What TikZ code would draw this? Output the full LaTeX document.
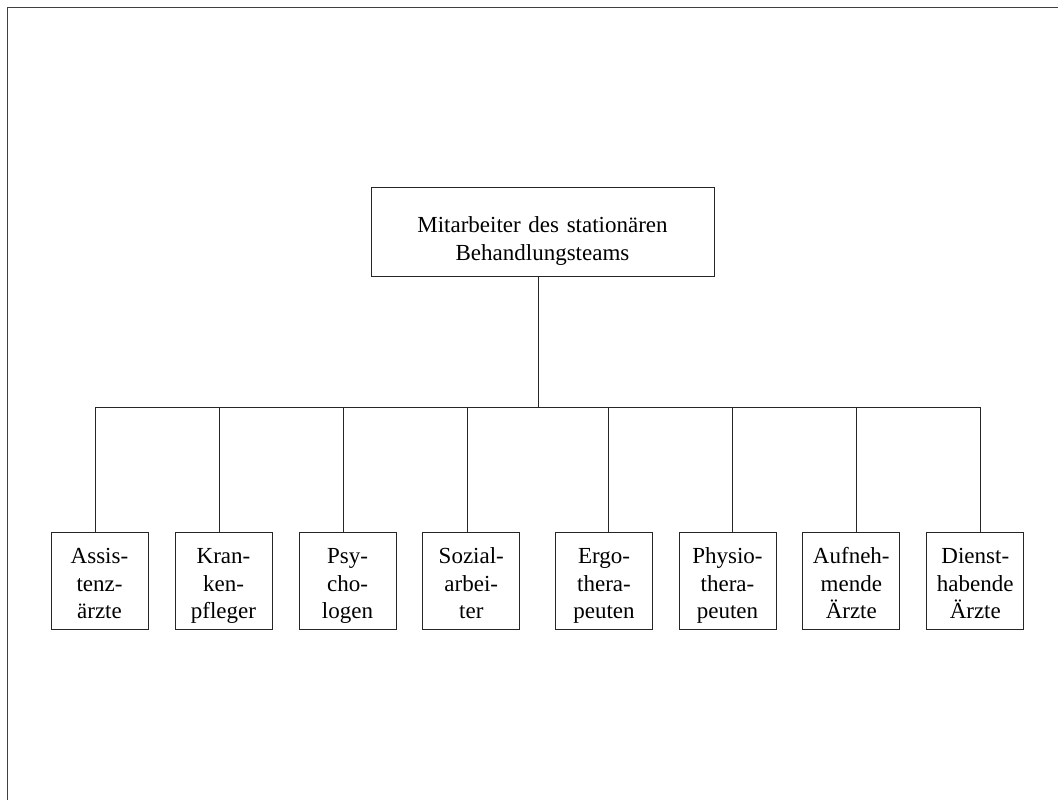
\documentclass[tikz,border=0pt]{standalone}
\usepackage{fontspec}
\setmainfont{Liberation Serif}
\begin{document}
\begin{tikzpicture}[x=1pt,y=-1pt,
  frame/.style={draw=black!75, line width=1pt},
  headbox/.style={draw=black!85, line width=1pt, inner sep=0pt,
    minimum width=343pt, text width=330pt, align=center,
    text height=45.3pt, text depth=43.7pt,
    font=\fontsize{23}{28}\selectfont, anchor=north},
  unitbox/.style={draw=black!85, line width=1pt, inner sep=0pt,
    minimum width=97pt, text width=92pt, align=center,
    text height=31.6pt, text depth=66pt,
    font=\fontsize{23}{27.5}\selectfont, anchor=north},
  conn/.style={draw=black!85, line width=1pt}]
  \useasboundingbox (0,0) rectangle (1058,800);

  % page frame (top and left edge)
  \draw[frame] (1058,8) -- (7,8) -- (7,800);

  % head of the team
  \node[headbox] (top) at (542.5,186.7)
    {Mitarbeiter des stationären\\Behandlungsteams};

  % the eight professional groups
  \foreach \i/\cx/\jx/\txt in {
      1/99.5/95.3/{Assis-\\tenz-\\ärzte},
      2/223.5/219.3/{Kran-\\ken-\\pfleger},
      3/347.5/343.3/{Psy-\\cho-\\logen},
      4/471.3/467/{Sozial-\\arbei-\\ter},
      5/604/608.7/{Ergo-\\thera-\\peuten},
      6/727.5/732.3/{Physio-\\thera-\\peuten},
      7/851.3/856.3/{Aufneh-\\mende\\Ärzte},
      8/975.3/980.5/{Dienst-\\habende\\Ärzte}} {
    \node[unitbox] (b\i) at (\cx,531.7) {\txt};
    \coordinate (j\i) at (\jx,407);
  }

  % connectors: stem, bus and drops
  \coordinate (stem) at (538,407);
  \draw[conn] (top.south -| stem) -- (stem);
  \draw[conn] (j1) -- (j8);
  \foreach \i in {1,...,8} {
    \draw[conn] (j\i) -- (j\i |- b\i.north);
  }
\end{tikzpicture}
\end{document}
